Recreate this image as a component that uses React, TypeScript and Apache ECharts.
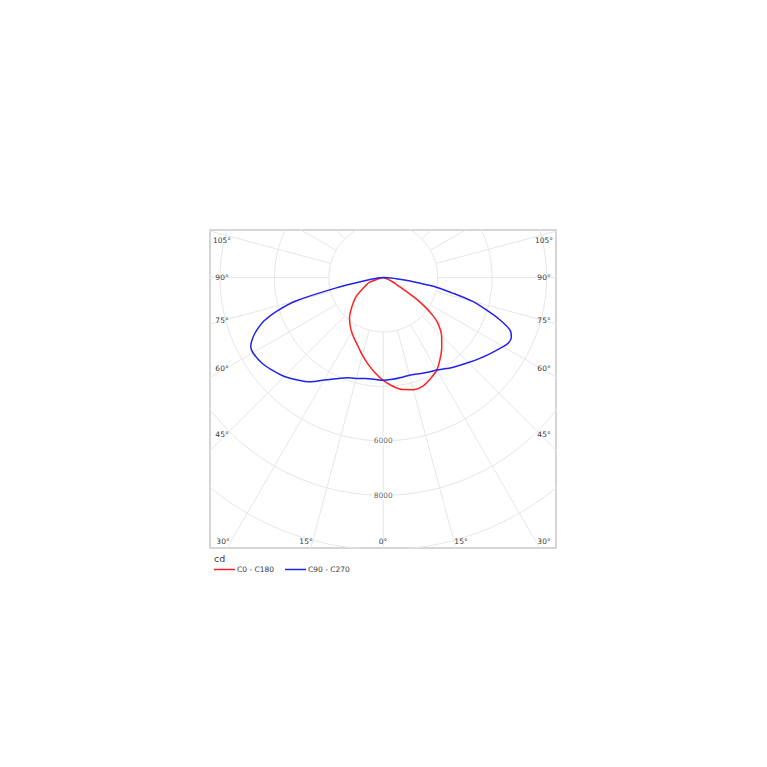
import React, { useEffect, useRef } from "react";
import * as echarts from "echarts";

// ---- Data (luminous intensity, cd) ----
// Signed gamma angle in degrees: negative = left half, positive = right half, 0 = nadir.
const C0_C180_ANGLES = [-90, -80, -75, -70, -65, -60, -55, -50, -45, -40, -35, -30, -25, -20, -15, -10, -5, 0, 5, 10, 15, 20, 25, 30, 35, 40, 45, 50, 52.5, 55, 57.5, 60, 62.5, 65, 70, 75, 80, 90];
const C0_C180_VALUES = [0, 60, 180, 560, 720, 920, 1220, 1440, 1680, 1930, 2130, 2320, 2500, 2700, 2960, 3230, 3510, 3780, 4010, 4180, 4265, 4250, 4100, 3930, 3640, 3340, 3030, 2620, 2300, 1850, 1330, 780, 520, 370, 180, 70, 20, 0];

const C90_C270_ANGLES = [-90, -85, -80, -77.5, -75, -72.5, -70, -67.5, -65, -62.5, -60, -55, -50, -45, -40, -35, -30, -25, -20, -15, -10, -5, 0, 5, 10, 15, 20, 25, 30, 35, 40, 45, 50, 55, 60, 62.5, 65, 67.5, 70, 72.5, 75, 77.5, 80, 82.5, 85, 90];
const C90_C270_VALUES = [0, 150, 700, 1800, 3300, 4100, 4670, 5025, 5300, 5490, 5530, 5460, 5310, 5140, 4915, 4680, 4350, 4100, 3920, 3840, 3765, 3755, 3775, 3755, 3730, 3715, 3765, 3845, 3925, 4085, 4240, 4420, 4625, 4840, 5080, 5190, 5190, 5035, 4565, 3970, 3400, 2560, 1900, 1000, 480, 0];

const SERIES_NAMES = ["C0 - C180", "C90 - C270"];
const RING_VALUES = [2000, 4000, 6000, 8000, 10000, 12000];
const SCALE_LABELS = [6000, 8000];
const SPOKE_STEP = 15;
const LEFT_ANGLE_LABELS = ["105°", "90°", "75°", "60°", "45°"];
const BOTTOM_ANGLE_LABELS = ["30°", "15°", "0°", "15°", "30°"];

// ---- Layout ----
const CX = 383.3;
const CY = 277.5;
const K = 27.22 / 1000; // px per cd
const GRID = { left: 210, top: 230, width: 346, height: 318 };

const FONT = "DejaVu Sans";
const GRID_COLOR = "#e6e6e6";
const TEXT_COLOR = "#3a3a3a";

const rad = (d: number) => (d * Math.PI) / 180;
const toXY = (angles: number[], values: number[]) =>
  angles.map((a, i) => [values[i] * Math.sin(rad(a)), -values[i] * Math.cos(rad(a))]);

export default function App() {
  const ref = useRef<HTMLDivElement>(null);

  useEffect(() => {
    document.body.style.margin = "0";
    if (!ref.current) return;
    const chart = echarts.init(ref.current, undefined, { renderer: "svg" });

    const xMin = -(CX - GRID.left) / K;
    const xMax = (GRID.left + GRID.width - CX) / K;
    const yMax = (CY - GRID.top) / K;
    const yMin = -(GRID.top + GRID.height - CY) / K;

    const gridSeries: any[] = [];
    RING_VALUES.forEach((r) => {
      const pts: number[][] = [];
      for (let t = 0; t <= 360; t += 2) pts.push([r * Math.sin(rad(t)), r * Math.cos(rad(t))]);
      gridSeries.push({
        type: "line", data: pts, symbol: "none", silent: true, z: 1,
        lineStyle: { color: GRID_COLOR, width: 1 },
      });
    });
    for (let a = 0; a < 360; a += SPOKE_STEP) {
      const r0 = RING_VALUES[0];
      const r1 = 16000;
      gridSeries.push({
        type: "line", symbol: "none", silent: true, z: 1,
        data: [
          [r0 * Math.sin(rad(a)), -r0 * Math.cos(rad(a))],
          [r1 * Math.sin(rad(a)), -r1 * Math.cos(rad(a))],
        ],
        lineStyle: { color: GRID_COLOR, width: 1 },
      });
    }

    const labelStyle = { fontSize: 7.5, fill: TEXT_COLOR, fontFamily: FONT };
    const ySteps = [240.7, 277.5, 320, 368.3, 434.3];
    const graphics: any[] = [];
    LEFT_ANGLE_LABELS.forEach((t, i) => {
      [222, 544].forEach((x) => {
        graphics.push({
          type: "text", x, y: ySteps[i], z: 10,
          style: { ...labelStyle, text: t, align: "center", verticalAlign: "middle", textAlign: "center", textVerticalAlign: "middle" },
        });
      });
    });
    const xBottom = [223, 306, 383, 461, 544];
    BOTTOM_ANGLE_LABELS.forEach((t, i) => {
      graphics.push({
        type: "text", x: xBottom[i], y: 541.7, z: 10,
        style: { ...labelStyle, text: t, align: "center", verticalAlign: "middle", textAlign: "center", textVerticalAlign: "middle" },
      });
    });

    chart.setOption({
      animation: false,
      title: {
        text: "cd", left: 214, top: 553, padding: 0,
        textStyle: { fontSize: 9.5, fontWeight: "normal", color: TEXT_COLOR, fontFamily: FONT },
      },
      legend: {
        data: SERIES_NAMES, left: 214, top: 565.5, padding: 0,
        icon: "rect", itemWidth: 21, itemHeight: 1.5, itemGap: 11,
        textStyle: { fontSize: 7.5, color: TEXT_COLOR, fontFamily: FONT, padding: [0, 0, 0, -3] },
      },
      grid: { ...GRID, show: true, borderColor: "#c8c8c8", borderWidth: 1.5, backgroundColor: "transparent" },
      xAxis: { type: "value", min: xMin, max: xMax, show: false },
      yAxis: { type: "value", min: yMin, max: yMax, show: false },
      graphic: graphics,
      series: [
        ...gridSeries,
        {
          type: "scatter", z: 5, silent: true, symbolSize: 0,
          data: SCALE_LABELS.map((v) => ({ name: String(v), value: [0, -v] })),
          label: {
            show: true, position: "inside", formatter: "{b}", fontSize: 7.5, color: TEXT_COLOR,
            fontFamily: FONT, backgroundColor: "#fff", padding: [1, 1],
          },
        },
        {
          name: SERIES_NAMES[0], type: "line", z: 3, symbol: "none", smooth: 0.3,
          data: toXY(C0_C180_ANGLES, C0_C180_VALUES),
          lineStyle: { color: "#ff2020", width: 1.5 }, itemStyle: { color: "#ff2020" },
        },
        {
          name: SERIES_NAMES[1], type: "line", z: 4, symbol: "none", smooth: 0.3,
          data: toXY(C90_C270_ANGLES, C90_C270_VALUES),
          lineStyle: { color: "#2222ee", width: 1.5 }, itemStyle: { color: "#2222ee" },
        },
      ],
    });
    return () => chart.dispose();
  }, []);

  return <div ref={ref} style={{ width: 767, height: 767 }} />;
}
